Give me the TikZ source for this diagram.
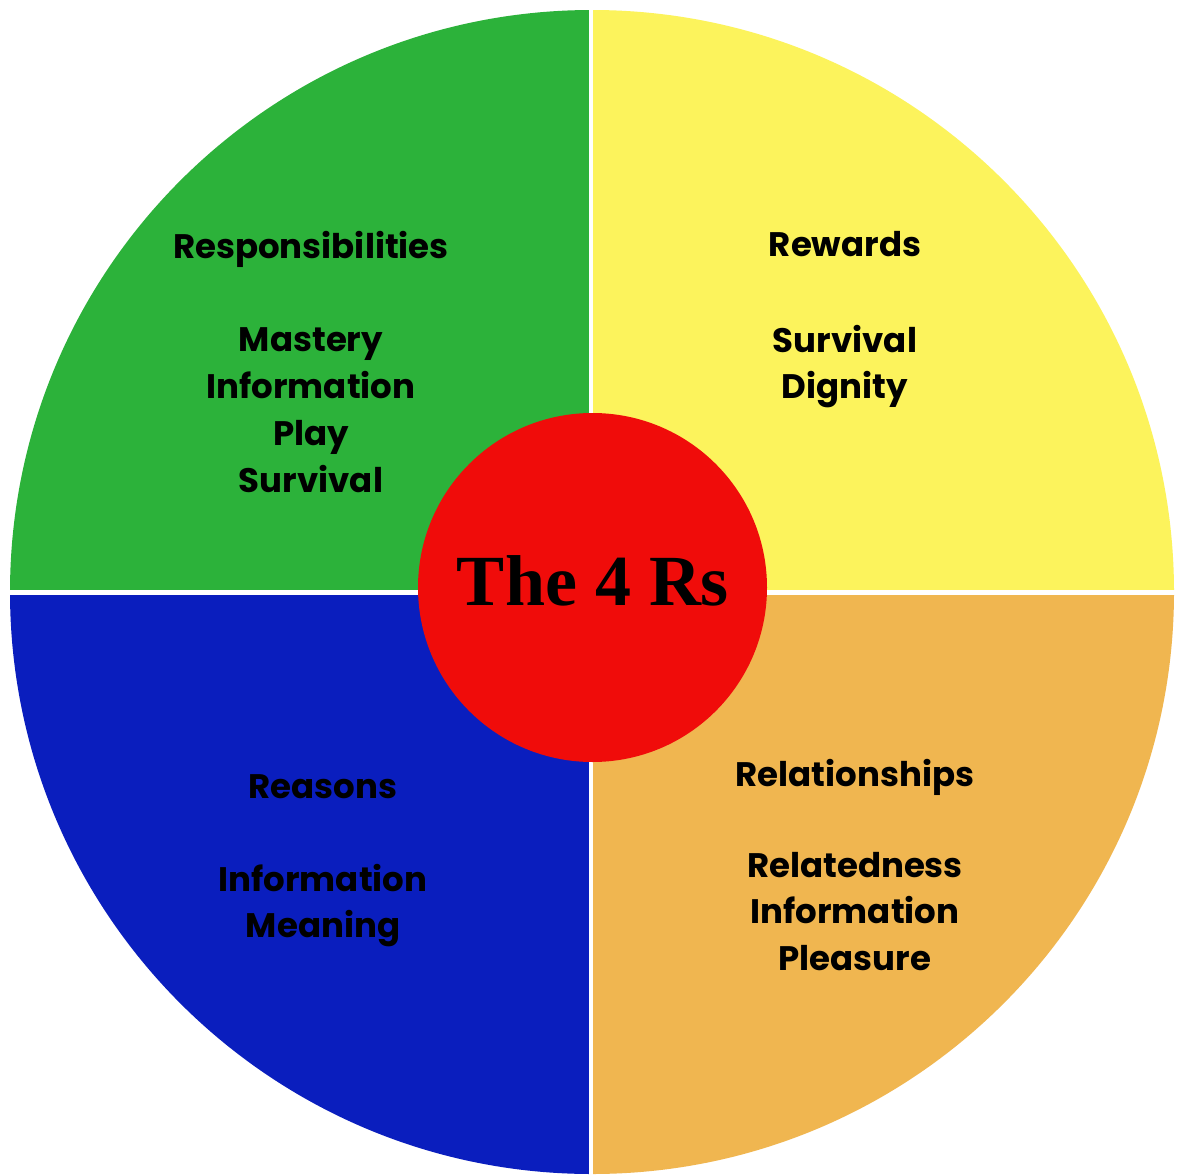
\documentclass[tikz,border=0pt]{standalone}
\usepackage{fontspec}
\setmainfont{Liberation Serif}
\newfontfamily\quadfont{Poppins}
\definecolor{qgreen}{RGB}{44,178,58}
\definecolor{qyellow}{RGB}{252,243,92}
\definecolor{qblue}{RGB}{10,30,190}
\definecolor{qorange}{RGB}{240,182,80}
\definecolor{qred}{RGB}{240,12,10}
\tikzset{
  qtext/.style={anchor=base, inner sep=0pt, text=black, font=\quadfont\bfseries\fontsize{34}{40}\selectfont},
  titletext/.style={anchor=base, inner sep=0pt, text=black, font=\bfseries\fontsize{72}{80}\selectfont}
}
\begin{document}
\begin{tikzpicture}[x=1pt,y=-1pt]
  \useasboundingbox[fill=white] (0,0) rectangle (1178,1175);
  % four coloured quadrants of the disc
  \begin{scope}
    \clip (592,592) circle (582);
    \fill[qgreen]  (0,0)     rectangle (591,592);
    \fill[qyellow] (591,0)   rectangle (1178,592);
    \fill[qblue]   (0,592)   rectangle (591,1175);
    \fill[qorange] (591,592) rectangle (1178,1175);
  \end{scope}
  % white dividing lines
  \draw[white, line width=4.5pt] (591,0) -- (591,1175);
  \draw[white, line width=4.5pt] (0,592.5) -- (1178,592.5);
  % central disc
  \node[circle, fill=qred, minimum size=349pt, inner sep=0pt] (hub) at (592.5,587.5) {};
  \node[titletext] (title) at (593,605) {The 4 Rs};
  % Responsibilities
  \node[qtext] (g1) at (311,258) {Responsibilities};
  \node[qtext] (g2) at (311,351) {Mastery};
  \node[qtext] (g3) at (311,398) {Information};
  \node[qtext] (g4) at (311,445) {Play};
  \node[qtext] (g5) at (311,492) {Survival};
  % Rewards
  \node[qtext] (y1) at (845,256) {Rewards};
  \node[qtext] (y2) at (845,352) {Survival};
  \node[qtext] (y3) at (845,398) {Dignity};
  % Reasons
  \node[qtext] (b1) at (323,798) {Reasons};
  \node[qtext] (b2) at (323,891) {Information};
  \node[qtext] (b3) at (323,937) {Meaning};
  % Relationships
  \node[qtext] (o1) at (855,786) {Relationships};
  \node[qtext] (o2) at (855,877) {Relatedness};
  \node[qtext] (o3) at (855,923) {Information};
  \node[qtext] (o4) at (855,970) {Pleasure};
\end{tikzpicture}
\end{document}
